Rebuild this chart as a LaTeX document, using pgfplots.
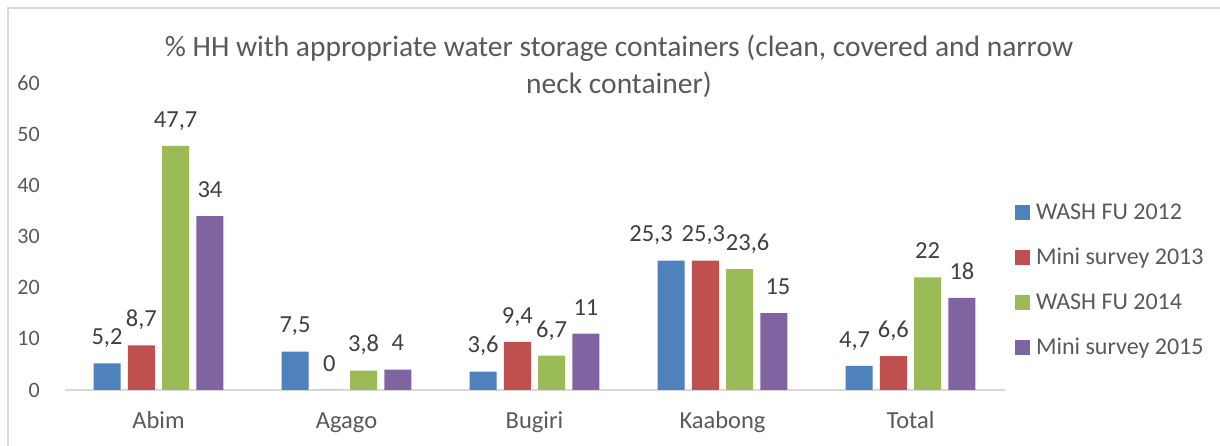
\documentclass[border=0pt]{standalone}
\usepackage{fontspec}
\setmainfont{Carlito}
\usepackage{pgfplots}
\pgfplotsset{compat=1.18}
\definecolor{c1}{HTML}{4F81BD}
\definecolor{c2}{HTML}{C0504D}
\definecolor{c3}{HTML}{9BBB59}
\definecolor{c4}{HTML}{8064A2}
\definecolor{txt}{HTML}{595959}
\definecolor{lbl}{HTML}{404040}
\definecolor{frm}{HTML}{D9D9D9}
\begin{document}
\begin{tikzpicture}[x=1pt,y=1pt]
\fill[white] (0,0) rectangle (1220,446);
\draw[frm, line width=2pt] (8,-10) -- (8,438) -- (1230,438);
\node[text=txt, font=\fontsize{29.5}{37}\selectfont, align=center] at (619,379.5)
  {\% HH with appropriate water storage containers (clean, covered and narrow\\neck container)};
\begin{axis}[
  at={(64.5pt,56pt)}, anchor=south west, scale only axis,
  width=940pt, height=307pt,
  ymin=0, ymax=60, ytick={0,10,...,60},
  xmin=-0.5, xmax=4.5,
  xtick={0,1,2,3,4}, xticklabels={Abim,Agago,Bugiri,Kaabong,Total},
  axis lines*=left,
  y axis line style={draw=none},
  x axis line style={draw=frm, line width=1.5pt},
  major tick length=0pt,
  tick style={draw=none},
  ybar=7.3pt, bar width=27pt,
  ticklabel style={text=txt},
  yticklabel style={anchor=east, inner sep=0pt, xshift=-24.5pt, font=\fontsize{22}{26}\selectfont},
  xticklabel style={anchor=base, inner sep=0pt, yshift=-39pt, font=\fontsize{24.5}{28}\selectfont},
  nodes near coords,
  every node near coord/.append style={font=\fontsize{24.5}{28}\selectfont, text=lbl, anchor=base, inner sep=0pt, yshift=18.7pt},
  legend image code/.code={\fill[#1] (0pt,-7.5pt) rectangle (15pt,7.5pt);},
  legend cell align=left,
  legend style={at={(1.01117,0.3583)}, anchor=west, draw=none, fill=none, inner sep=0pt, outer sep=0pt,
    font=\fontsize{24}{28}\selectfont, text=txt, row sep=30pt, column sep=6pt,
    nodes={inner sep=0pt, text height=15pt, text depth=0pt}},
  /pgf/number format/use comma,
  /pgf/number format/assume math mode=true,
]
\addplot[fill=c1, draw=none, coordinate style/.condition={x==3}{xshift=-20pt}, coordinate style/.condition={x==4}{xshift=-4.5pt}]
  coordinates {(0,5.2) (1,7.5) (2,3.6) (3,25.3) (4,4.7)};
\addplot[fill=c2, draw=none, coordinate style/.condition={x==3}{xshift=-2pt}]
  coordinates {(0,8.7) (1,0) (2,9.4) (3,25.3) (4,6.6)};
\addplot[fill=c3, draw=none, coordinate style/.condition={x==3}{xshift=8pt}]
  coordinates {(0,47.7) (1,3.8) (2,6.7) (3,23.6) (4,22)};
\addplot[fill=c4, draw=none, coordinate style/.condition={x==3}{xshift=4pt}]
  coordinates {(0,34) (1,4) (2,11) (3,15) (4,18)};
\legend{WASH FU 2012, Mini survey 2013, WASH FU 2014, Mini survey 2015}
\end{axis}
\pgfresetboundingbox
\path[use as bounding box] (0,0) rectangle (1220,446);
\end{tikzpicture}
\end{document}
